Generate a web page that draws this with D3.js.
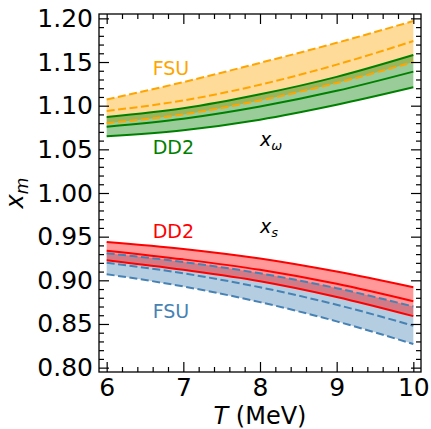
<!DOCTYPE html>
<html>
<head>
<meta charset="utf-8">
<script src="https://cdn.jsdelivr.net/npm/d3@7"></script>
<style>
  body { margin: 0; background: #fff; }
  text { font-family: "DejaVu Sans", sans-serif; }
</style>
</head>
<body>
<script>
// temperatures (MeV)
var temps = [6, 7, 8, 9, 10];

// x_omega bands
var fsuOmegaHi  = [1.107, 1.127, 1.149, 1.172, 1.197];
var fsuOmegaMid = [1.094, 1.106, 1.124, 1.147, 1.174];
var fsuOmegaLo  = [1.080, 1.090, 1.106, 1.126, 1.150];
var dd2OmegaHi  = [1.087, 1.097, 1.113, 1.133, 1.158];
var dd2OmegaMid = [1.076, 1.085, 1.099, 1.117, 1.139];
var dd2OmegaLo  = [1.065, 1.072, 1.084, 1.101, 1.121];

// x_s bands
var dd2SHi  = [0.944, 0.936, 0.925, 0.910, 0.892];
var dd2SMid = [0.934, 0.924, 0.912, 0.896, 0.876];
var dd2SLo  = [0.923, 0.912, 0.899, 0.881, 0.859];
var fsuSHi  = [0.931, 0.921, 0.908, 0.891, 0.870];
var fsuSMid = [0.920, 0.908, 0.892, 0.872, 0.848];
var fsuSLo  = [0.907, 0.893, 0.875, 0.853, 0.827];

var xTicks = [6, 7, 8, 9, 10];
var yTicks = [0.80, 0.85, 0.90, 0.95, 1.00, 1.05, 1.10, 1.15, 1.20];

// set the dimensions and margins of the graph
var margin = {top: 14, right: 10, bottom: 57, left: 99},
    width = 431 - margin.left - margin.right,
    height = 429 - margin.top - margin.bottom;

var x = d3.scaleLinear().domain([5.9, 10.1]).range([0, width]);
var y = d3.scaleLinear().domain([0.795, 1.205]).range([height, 0]);

var svg = d3.select("body").append("svg")
    .attr("width", width + margin.left + margin.right)
    .attr("height", height + margin.top + margin.bottom)
    .append("g")
    .attr("transform", "translate(" + margin.left + "," + margin.top + ")");

function band(hi, lo) {
    return temps.map(function(t, i) { return {t: t, hi: hi[i], lo: lo[i]}; });
}
function pts(v) {
    return temps.map(function(t, i) { return {t: t, v: v[i]}; });
}

var area = d3.area()
    .curve(d3.curveMonotoneX)
    .x(function(d) { return x(d.t); })
    .y0(function(d) { return y(d.lo); })
    .y1(function(d) { return y(d.hi); });
var line = d3.line()
    .curve(d3.curveMonotoneX)
    .x(function(d) { return x(d.t); })
    .y(function(d) { return y(d.v); });

var fills = [
    {hi: fsuOmegaHi, lo: fsuOmegaLo, c: "orange"},
    {hi: dd2OmegaHi, lo: dd2OmegaLo, c: "green"},
    {hi: fsuSHi, lo: fsuSLo, c: "steelblue"},
    {hi: dd2SHi, lo: dd2SLo, c: "red"}
];
fills.forEach(function(f) {
    svg.append("path")
        .datum(band(f.hi, f.lo))
        .attr("d", area)
        .attr("fill", f.c)
        .attr("fill-opacity", 0.4);
});

var lines = [
    {v: fsuOmegaHi, c: "orange", dash: true},
    {v: fsuOmegaMid, c: "orange", dash: true},
    {v: fsuOmegaLo, c: "orange", dash: true},
    {v: dd2OmegaHi, c: "green"},
    {v: dd2OmegaMid, c: "green"},
    {v: dd2OmegaLo, c: "green"},
    {v: fsuSHi, c: "steelblue", dash: true},
    {v: fsuSMid, c: "steelblue", dash: true},
    {v: fsuSLo, c: "steelblue", dash: true},
    {v: dd2SHi, c: "red"},
    {v: dd2SMid, c: "red"},
    {v: dd2SLo, c: "red"}
];
lines.forEach(function(l) {
    svg.append("path")
        .datum(pts(l.v))
        .attr("d", line)
        .attr("fill", "none")
        .attr("stroke", l.c)
        .attr("stroke-width", 2)
        .attr("stroke-dasharray", l.dash ? "8,3.5" : null);
});

// minor tick values
var xMinor = d3.range(6, 10.001, 0.2).filter(function(v) { return Math.abs(v - Math.round(v)) > 1e-6; });
var yMinor = d3.range(80, 121, 1).filter(function(v) { return v % 5 !== 0; }).map(function(v) { return v / 100; });

function addAxis(gen, scale, major, minor, transform, labels) {
    var g = svg.append("g").attr("transform", transform);
    g.call(gen(scale).tickValues(major).tickSizeInner(-10).tickSizeOuter(0).tickPadding(6)
        .tickFormat(labels ? labels : ""));
    svg.append("g").attr("transform", transform)
        .call(gen(scale).tickValues(minor).tickSizeInner(-5).tickSizeOuter(0).tickFormat(""));
    return g;
}

var gx = addAxis(d3.axisBottom, x, xTicks, xMinor, "translate(0," + height + ")", d3.format("d"));
addAxis(d3.axisTop, x, xTicks, xMinor, "translate(0,0)", null);
var gy = addAxis(d3.axisLeft, y, yTicks, yMinor, "translate(0,0)", d3.format(".2f"));
addAxis(d3.axisRight, y, yTicks, yMinor, "translate(" + width + ",0)", null);

svg.selectAll(".domain").remove();
svg.selectAll(".tick line").attr("stroke", "#000").attr("stroke-width", 1.2);
gx.selectAll("text").attr("font-size", 25).attr("fill", "#000");
gy.selectAll("text").attr("font-size", 25).attr("fill", "#000");

// frame
svg.append("rect")
    .attr("width", width)
    .attr("height", height)
    .attr("fill", "none")
    .attr("stroke", "#000")
    .attr("stroke-width", 1.3);

// axis labels
svg.append("text")
    .attr("x", width / 2)
    .attr("y", height + 52)
    .attr("text-anchor", "middle")
    .attr("font-size", 24)
    .html('<tspan font-style="italic">T</tspan> (MeV)');

svg.append("text")
    .attr("transform", "translate(-76," + (height / 2) + ") rotate(-90)")
    .attr("text-anchor", "middle")
    .attr("font-size", 24)
    .html('<tspan font-style="italic">x</tspan><tspan font-style="italic" font-size="17" dy="5">m</tspan>');

// annotations
var notes = [
    {t: "FSU", c: "orange", x: 6.6, y: 1.135},
    {t: "DD2", c: "green", x: 6.6, y: 1.045},
    {t: "DD2", c: "red", x: 6.6, y: 0.948},
    {t: "FSU", c: "steelblue", x: 6.6, y: 0.857}
];
notes.forEach(function(n) {
    svg.append("text")
        .attr("x", x(n.x))
        .attr("y", y(n.y))
        .attr("fill", n.c)
        .attr("font-size", 19)
        .text(n.t);
});

svg.append("text")
    .attr("x", x(8.0))
    .attr("y", y(1.054))
    .attr("font-size", 19)
    .html('<tspan font-style="italic">x</tspan><tspan font-style="italic" font-size="13" dy="4">ω</tspan>');
svg.append("text")
    .attr("x", x(8.0))
    .attr("y", y(0.954))
    .attr("font-size", 19)
    .html('<tspan font-style="italic">x</tspan><tspan font-style="italic" font-size="13" dy="4">s</tspan>');
</script>
</body>
</html>
